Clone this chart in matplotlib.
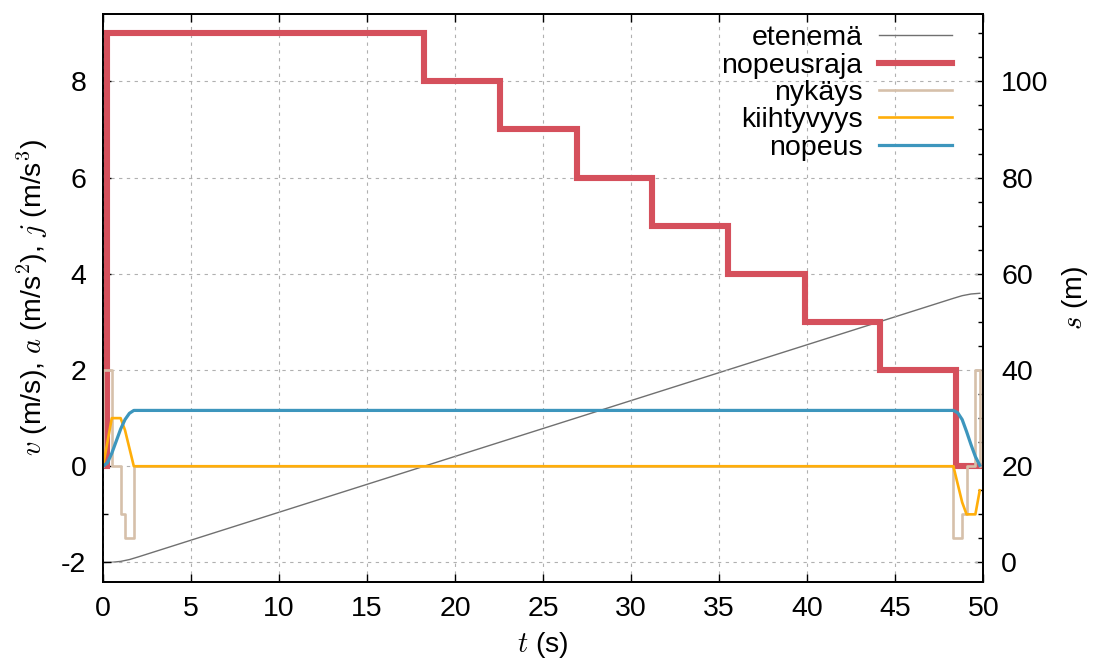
import matplotlib
matplotlib.use("Agg")
import matplotlib.pyplot as plt
from matplotlib.ticker import MultipleLocator

# --- data -------------------------------------------------------------
# distance travelled (right axis, metres)
s_t = [0.0, 0.5, 1.0, 1.5, 2.0, 48.3, 48.8, 49.3, 49.8]
s_m = [0.0, 0.03, 0.22, 0.6, 1.15, 54.9, 55.45, 55.8, 55.95]

# speed limit steps (m/s)
limit_t = [0.0, 0.25, 0.25, 18.25, 18.25, 22.55, 22.55, 26.9, 26.9, 31.2, 31.2,
           35.5, 35.5, 39.85, 39.85, 44.15, 44.15, 48.45, 48.45, 49.8]
limit_v = [0, 0, 9, 9, 8, 8, 7, 7, 6, 6, 5, 5, 4, 4, 3, 3, 2, 2, 0, 0]

# jerk (m/s^3)
jerk_t = [0.0, 0.0, 0.5, 0.5, 1.0, 1.0, 1.25, 1.25, 1.75, 1.75, 48.3, 48.3,
          48.8, 48.8, 49.05, 49.05, 49.55, 49.55, 49.8, 49.8]
jerk_v = [0, 2, 2, 0, 0, -1, -1, -1.5, -1.5, 0, 0, -1.5,
          -1.5, -1, -1, 0, 0, 2, 2, 0]

# acceleration (m/s^2)
acc_t = [0.0, 0.5, 1.0, 1.25, 1.75, 48.3, 48.8, 49.05, 49.55, 49.8]
acc_v = [0.0, 1.0, 1.0, 0.75, 0.0, 0.0, -0.75, -1.0, -1.0, -0.5]

# velocity (m/s)
vel_t = [0.0, 0.25, 0.5, 0.75, 1.0, 1.25, 1.5, 1.75, 48.3, 48.55, 48.8, 49.05,
         49.3, 49.55, 49.8]
vel_v = [0.0, 0.07, 0.27, 0.52, 0.77, 0.97, 1.1, 1.16, 1.16, 1.11, 0.97, 0.72,
         0.45, 0.2, 0.02]

labels = ["etenemä", "nopeusraja", "nykäys", "kiihtyvyys", "nopeus"]

# --- style ------------------------------------------------------------
plt.rcParams["font.family"] = ["Liberation Sans", "DejaVu Sans"]
plt.rcParams["mathtext.fontset"] = "cm"
plt.rcParams["axes.unicode_minus"] = False
FS = 20.5

fig = plt.figure(figsize=(10.97, 6.62), dpi=100)
ax = fig.add_axes([103 / 1097, 1 - 581.7 / 662, (983.3 - 103) / 1097, (581.7 - 14) / 662])
ax2 = ax.twinx()

# distance on the right axis, drawn beneath the other curves
h_s, = ax2.plot(s_t, s_m, color="#707070", lw=1.0, label=labels[0])
ax.set_zorder(ax2.get_zorder() + 1)
ax.patch.set_visible(False)

h_lim, = ax.plot(limit_t, limit_v, color="#d5505c", lw=4.4, label=labels[1],
                 solid_joinstyle="miter")
h_j, = ax.plot(jerk_t, jerk_v, color="#d6c0aa", lw=1.9, label=labels[2])
h_a, = ax.plot(acc_t, acc_v, color="#ffae0a", lw=1.9, label=labels[3])
h_v, = ax.plot(vel_t, vel_v, color="#3d96bd", lw=2.3, label=labels[4])

ax.set_xlim(0, 50)
ax.set_ylim(-2.4, 9.4)
ax2.set_ylim(-4, 114)

ax.xaxis.set_major_locator(MultipleLocator(5))
ax.yaxis.set_major_locator(MultipleLocator(2))
ax.yaxis.set_minor_locator(MultipleLocator(1))
ax2.yaxis.set_major_locator(MultipleLocator(20))
ax2.yaxis.set_minor_locator(MultipleLocator(5))

ax.tick_params(axis="both", which="both", direction="in", labelsize=FS,
               top=True, right=False, width=1.0)
ax.tick_params(axis="both", which="major", length=6, pad=10)
ax.tick_params(axis="y", which="minor", length=3.5)
ax.tick_params(axis="y", which="major", pad=12)
ax2.tick_params(axis="y", which="both", direction="in", labelsize=FS, width=1.0)
ax2.tick_params(axis="y", which="major", length=6, pad=13)
ax2.tick_params(axis="y", which="minor", length=3.5)

for a in (ax, ax2):
    for sp in a.spines.values():
        sp.set_linewidth(1.3)

ax.grid(True, which="major", color="#b0b0b0", lw=0.8, linestyle=(0, (3, 4)))

ax.set_xlabel("$t$ (s)", fontsize=FS, labelpad=6)
ax.set_ylabel("$v$ (m/s), $a$ (m/s$^2$), $j$ (m/s$^3$)", fontsize=FS, labelpad=8)
ax2.set_ylabel("$s$ (m)", fontsize=FS, rotation=90, labelpad=8)

ax.legend(handles=[h_s, h_lim, h_j, h_a, h_v], loc="upper right",
          bbox_to_anchor=(0.981, 1.005), frameon=False, markerfirst=False,
          fontsize=FS, handlelength=2.56, handletextpad=0.6, labelspacing=0.045,
          borderaxespad=0.1)

fig.savefig("out.png", dpi=100)
